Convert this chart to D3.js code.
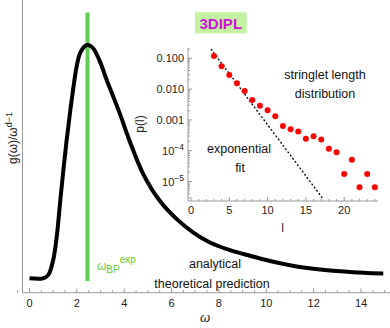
<!DOCTYPE html>
<meta charset="utf-8">
<script src="https://cdnjs.cloudflare.com/ajax/libs/d3/7.8.5/d3.min.js"></script>
<style>
  body { margin: 0; background: #fff; }
  text { font-family: "Liberation Sans", Arial, sans-serif; }
</style>
<body>
<div id="chart"></div>
<script>
// main curve: omega vs g(omega)/omega^(d-1) (arbitrary units, peak ~ 1)
var omega = [0, 0.57, 0.79, 1.0, 1.15, 1.29, 1.43, 1.57, 1.71, 1.85, 1.99, 2.13, 2.34, 2.48, 2.69, 2.98, 3.26, 3.54, 3.82, 4.2, 4.81, 5.51, 6.22, 6.92, 7.62, 8.47, 9.31, 10.16, 11.28, 12.69, 14.1, 14.94]
var gval  = [0.058, 0.058, 0.071, 0.132, 0.226, 0.362, 0.495, 0.617, 0.726, 0.826, 0.913, 0.966, 0.996, 1.0, 0.987, 0.932, 0.859, 0.791, 0.722, 0.62, 0.478, 0.37, 0.297, 0.243, 0.203, 0.172, 0.149, 0.128, 0.106, 0.09, 0.081, 0.078]
var omegaBP = 2.45
var mainTicks = [0, 2, 4, 6, 8, 10, 12, 14]

// inset: stringlet length distribution
var lengths = [3, 4, 5, 6, 7, 8, 9, 10, 11, 12, 13, 14, 15, 16, 17, 18, 19, 20, 21, 22, 23, 24]
var logP = [-0.925, -1.26, -1.54, -1.81, -2.06, -2.35, -2.54, -2.69, -2.88, -3.20, -3.30, -3.38, -3.61, -3.53, -3.64, -3.94, -4.05, -4.76, -4.29, -5.19, -4.76, -5.19]
var fitL = [2.6, 17.2]
var fitLogP = [-0.70, -5.55]
var insetXTicks = [0, 5, 10, 15, 20]
var insetYTicks = [0.1, 0.01, 0.001, 1e-4, 1e-5]
var insetYLabels = ["0.100", "0.010", "0.001", "10|-4", "10|-5"]

var W = 390, H = 328
var svg = d3.select("#chart").append("svg").attr("width", W).attr("height", H)

var axisCol = "#999"
var green = "#62cc55"

// ---- main plot ----
var x = d3.scaleLinear().domain([0, 14]).range([29.5, 361])
var y = d3.scaleLinear().domain([0, 1.182]).range([292.7, 0])

svg.append("line").attr("x1", 22.5).attr("x2", 22.5).attr("y1", 0).attr("y2", 293)
  .attr("stroke", axisCol).attr("stroke-width", 1)
svg.append("line").attr("x1", 22).attr("x2", 390).attr("y1", 292.7).attr("y2", 292.7)
  .attr("stroke", axisCol).attr("stroke-width", 1)

var minor = d3.range(-0.5, 15.6, 0.5).filter(function(d) { return d % 2 !== 0 })
svg.selectAll(".mnr").data(minor).enter().append("line")
  .attr("x1", function(d) { return x(d) }).attr("x2", function(d) { return x(d) })
  .attr("y1", 292.7).attr("y2", 290.2).attr("stroke", axisCol)
svg.selectAll(".mjr").data(mainTicks).enter().append("line")
  .attr("x1", function(d) { return x(d) }).attr("x2", function(d) { return x(d) })
  .attr("y1", 292.7).attr("y2", 288.5).attr("stroke", axisCol)
svg.selectAll(".mlab").data(mainTicks).enter().append("text")
  .attr("x", function(d) { return x(d) }).attr("y", 307)
  .attr("text-anchor", "middle").attr("font-size", 11).attr("fill", "#222")
  .text(function(d) { return d })

svg.append("text").attr("x", 205).attr("y", 322).attr("text-anchor", "middle")
  .attr("font-size", 13).attr("font-style", "italic").attr("fill", "#222").text("ω")

var yl = svg.append("text").attr("transform", "translate(17,138) rotate(-90)")
  .attr("text-anchor", "middle").attr("font-size", 12).attr("fill", "#222")
yl.append("tspan").text("g(ω)/ω")
yl.append("tspan").attr("dy", -5).attr("font-size", 9).text("d−1")

// green line at omega_BP
svg.append("line").attr("x1", x(omegaBP)).attr("x2", x(omegaBP))
  .attr("y1", 12.5).attr("y2", 281).attr("stroke", green).attr("stroke-width", 4)

var line = d3.line().x(function(d, i) { return x(omega[i]) }).y(function(d) { return y(d) })
  .curve(d3.curveCatmullRom.alpha(0.5))
svg.append("path").datum(gval).attr("d", line).attr("fill", "none")
  .attr("stroke", "#000").attr("stroke-width", 4)

var wl = svg.append("text").attr("x", 97).attr("y", 270).attr("font-size", 12).attr("fill", "#66cc22")
wl.append("tspan").attr("font-style", "italic").text("ω")
wl.append("tspan").attr("dy", 3).attr("font-size", 10).text("BP")
wl.append("tspan").attr("dy", -10).attr("font-size", 10).text("exp")

svg.append("text").attr("x", 215).attr("y", 268).attr("text-anchor", "middle")
  .attr("font-size", 12.5).attr("fill", "#111").text("analytical")
svg.append("text").attr("x", 212).attr("y", 287.5).attr("text-anchor", "middle")
  .attr("font-size", 12.5).attr("fill", "#111").text("theoretical prediction")

// 3DIPL badge
svg.append("rect").attr("x", 195).attr("y", 12.3).attr("width", 51.7).attr("height", 21)
  .attr("fill", "#c2f2a2")
svg.append("text").attr("x", 220.8).attr("y", 29).attr("text-anchor", "middle")
  .attr("font-size", 15).attr("font-weight", "bold").attr("fill", "#d010d8").text("3DIPL")

// ---- inset ----
var ix = d3.scaleLinear().domain([0, 5]).range([191, 229.3])
var iy = d3.scaleLinear().domain([-1, -5]).range([58.3, 181.5])
var ix0 = 188, iy0 = 201

svg.append("line").attr("x1", ix0).attr("x2", ix0).attr("y1", 48).attr("y2", iy0)
  .attr("stroke", axisCol)
svg.append("line").attr("x1", ix0).attr("x2", 378).attr("y1", iy0).attr("y2", iy0)
  .attr("stroke", axisCol)

var ixMinor = d3.range(0, 25).filter(function(d) { return d % 5 !== 0 })
svg.selectAll(".ixm").data(ixMinor).enter().append("line")
  .attr("x1", function(d) { return ix(d) }).attr("x2", function(d) { return ix(d) })
  .attr("y1", iy0).attr("y2", iy0 - 2).attr("stroke", axisCol)
svg.selectAll(".ixM").data(insetXTicks).enter().append("line")
  .attr("x1", function(d) { return ix(d) }).attr("x2", function(d) { return ix(d) })
  .attr("y1", iy0).attr("y2", iy0 - 4).attr("stroke", axisCol)
svg.selectAll(".ixl").data(insetXTicks).enter().append("text")
  .attr("x", function(d) { return ix(d) }).attr("y", 214)
  .attr("text-anchor", "middle").attr("font-size", 11).attr("fill", "#222")
  .text(function(d) { return d })

// log minor ticks
var iyMinor = []
;[-6, -5, -4, -3, -2, -1].forEach(function(e) {
  for (var k = 2; k <= 9; k++) iyMinor.push(e + Math.log10(k))
})
iyMinor = iyMinor.filter(function(v) { return iy(v) > 48 && iy(v) < iy0 })
svg.selectAll(".iym").data(iyMinor).enter().append("line")
  .attr("x1", ix0).attr("x2", ix0 + 2)
  .attr("y1", function(d) { return iy(d) }).attr("y2", function(d) { return iy(d) })
  .attr("stroke", axisCol)
svg.selectAll(".iyM").data(insetYTicks).enter().append("line")
  .attr("x1", ix0).attr("x2", ix0 + 4)
  .attr("y1", function(d) { return iy(Math.log10(d)) }).attr("y2", function(d) { return iy(Math.log10(d)) })
  .attr("stroke", axisCol)
svg.selectAll(".iyl").data(insetYLabels).enter().append("text")
  .attr("x", 184).attr("y", function(d, i) { return iy(Math.log10(insetYTicks[i])) + 4 })
  .attr("text-anchor", "end").attr("font-size", 11).attr("fill", "#222")
  .each(function(d) {
    var t = d3.select(this), parts = d.split("|")
    t.append("tspan").text(parts[0])
    if (parts[1]) t.append("tspan").attr("dy", -5).attr("font-size", 8.5).text(parts[1].replace("-", "−"))
  })

svg.append("text").attr("transform", "translate(144,124) rotate(-90)")
  .attr("text-anchor", "middle").attr("font-size", 12).attr("fill", "#222").text("p(l)")
svg.append("text").attr("x", 282.7).attr("y", 232).attr("text-anchor", "middle")
  .attr("font-size", 12).attr("fill", "#222").text("l")

// exponential fit
svg.append("line").attr("x1", ix(fitL[0])).attr("y1", iy(fitLogP[0]))
  .attr("x2", ix(fitL[1])).attr("y2", iy(fitLogP[1]))
  .attr("stroke", "#000").attr("stroke-width", 1.3).attr("stroke-dasharray", "2,2")

svg.selectAll(".dot").data(lengths).enter().append("circle")
  .attr("cx", function(d) { return ix(d) }).attr("cy", function(d, i) { return iy(logP[i]) })
  .attr("r", 3).attr("fill", "#f00")

svg.append("text").attr("x", 325).attr("y", 79).attr("text-anchor", "middle")
  .attr("font-size", 12.5).attr("fill", "#111").text("stringlet length")
svg.append("text").attr("x", 325).attr("y", 98).attr("text-anchor", "middle")
  .attr("font-size", 12.5).attr("fill", "#111").text("distribution")
svg.append("text").attr("x", 239).attr("y", 152.5).attr("text-anchor", "middle")
  .attr("font-size", 12.5).attr("fill", "#111").text("exponential")
svg.append("text").attr("x", 240).attr("y", 171.5).attr("text-anchor", "middle")
  .attr("font-size", 12.5).attr("fill", "#111").text("fit")
</script>
</body>
